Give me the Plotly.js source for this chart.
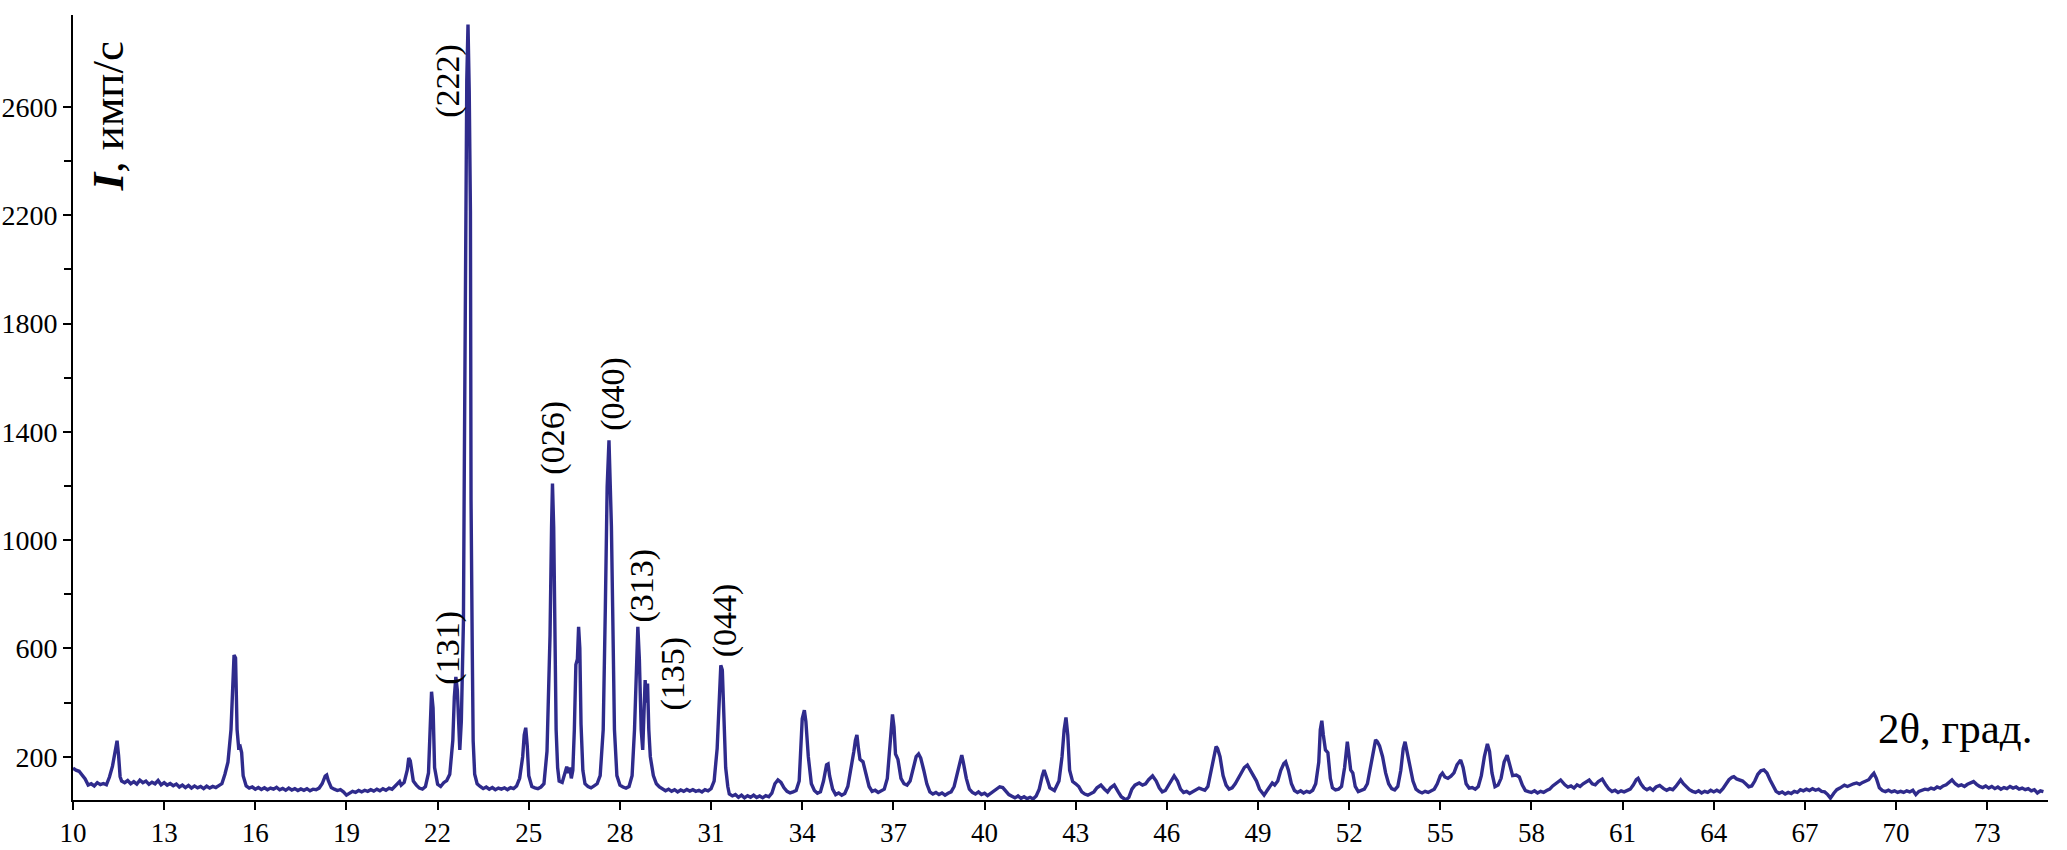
<!DOCTYPE html>
<html>
<head>
<meta charset="utf-8">
<script src="https://cdn.plot.ly/plotly-3.0.1.min.js"></script>
<style>html,body{margin:0;padding:0;background:#fff;}#chart{width:2067px;height:850px;}</style>
</head>
<body>
<div id="chart"></div>
<script>
const twoTheta = [
10.0,10.1,10.2,10.3,10.4,10.5,10.6,10.7,10.8,10.9,11.0,11.1,11.2,11.3,11.4,11.45,11.5,11.55,11.6,11.7,11.8,11.9,
12.0,12.1,12.2,12.3,12.4,12.5,12.6,12.7,12.8,12.9,13.0,13.1,13.2,13.3,13.4,13.5,13.6,13.7,13.8,13.9,
14.0,14.1,14.2,14.3,14.4,14.5,14.6,14.7,14.8,14.9,15.0,15.1,15.2,15.25,15.3,15.35,15.4,15.45,15.5,15.55,15.6,15.7,15.8,15.9,
16.0,16.1,16.2,16.3,16.4,16.5,16.6,16.7,16.8,16.9,17.0,17.1,17.2,17.3,17.4,17.5,17.6,17.7,17.8,17.9,
18.0,18.1,18.2,18.3,18.35,18.4,18.5,18.6,18.7,18.8,18.9,19.0,19.1,19.2,19.3,19.4,19.5,19.6,19.7,19.8,19.9,
20.0,20.1,20.2,20.3,20.4,20.5,20.6,20.7,20.75,20.8,20.9,21.0,21.05,21.1,21.15,21.2,21.3,21.4,21.5,21.6,21.7,21.75,21.8,21.85,21.9,
22.0,22.1,22.2,22.3,22.4,22.5,22.55,22.6,22.65,22.7,22.73,22.78,22.85,22.88,22.92,22.96,23.0,23.04,23.08,23.1,23.14,23.17,23.22,23.3,23.4,23.5,23.6,23.7,23.8,23.9,
24.0,24.1,24.2,24.3,24.4,24.5,24.6,24.7,24.8,24.85,24.9,24.95,25.0,25.1,25.2,25.3,25.4,25.5,25.6,25.65,25.7,25.75,25.78,25.82,25.86,25.9,25.95,
26.0,26.1,26.2,26.25,26.3,26.35,26.4,26.45,26.5,26.55,26.6,26.64,26.68,26.72,26.78,26.85,26.95,27.05,27.15,27.25,27.35,27.45,27.52,27.58,27.64,27.68,27.72,27.76,27.82,27.9,
28.0,28.1,28.2,28.3,28.4,28.48,28.54,28.59,28.64,28.7,28.75,28.8,28.83,28.87,28.91,28.95,29.0,29.1,29.2,29.3,29.4,29.5,29.6,29.7,29.8,29.9,
30.0,30.1,30.2,30.3,30.4,30.5,30.6,30.7,30.8,30.9,31.0,31.1,31.2,31.27,31.32,31.37,31.42,31.48,31.55,31.6,31.7,31.8,31.9,
32.0,32.1,32.2,32.3,32.4,32.5,32.6,32.7,32.8,32.9,33.0,33.1,33.2,33.3,33.4,33.5,33.6,33.7,33.8,33.9,33.95,
34.0,34.07,34.12,34.2,34.3,34.4,34.5,34.6,34.7,34.8,34.85,34.9,35.0,35.1,35.2,35.3,35.4,35.5,35.6,35.7,35.75,35.8,35.85,35.9,
36.0,36.1,36.2,36.3,36.4,36.5,36.6,36.7,36.8,36.9,36.97,37.02,37.07,37.15,37.25,37.35,37.45,37.55,37.65,37.75,37.83,37.9,
38.0,38.1,38.2,38.3,38.4,38.5,38.6,38.7,38.8,38.9,39.0,39.1,39.2,39.25,39.3,39.4,39.5,39.6,39.7,39.8,39.9,
40.0,40.1,40.2,40.3,40.4,40.5,40.6,40.7,40.8,40.9,41.0,41.1,41.2,41.3,41.4,41.5,41.6,41.7,41.8,41.9,41.96,
42.05,42.15,42.3,42.45,42.55,42.62,42.68,42.74,42.8,42.9,43.0,43.1,43.2,43.3,43.4,43.5,43.6,43.7,43.83,43.95,
44.05,44.15,44.27,44.4,44.5,44.65,44.75,44.85,44.95,45.09,45.2,45.3,45.4,45.53,45.65,45.75,45.85,45.95,
46.1,46.24,46.35,46.45,46.55,46.65,46.75,46.85,46.95,47.06,47.15,47.25,47.35,47.45,47.55,47.62,47.67,47.75,47.85,47.95,
48.05,48.15,48.25,48.35,48.45,48.55,48.65,48.75,48.85,48.95,49.05,49.15,49.2,49.3,49.4,49.47,49.55,49.65,49.75,49.85,49.91,
50.0,50.1,50.2,50.3,50.4,50.5,50.6,50.7,50.8,50.9,51.0,51.05,51.1,51.15,51.22,51.3,51.38,51.45,51.55,51.65,51.75,51.85,51.94,
52.0,52.05,52.12,52.2,52.3,52.4,52.5,52.6,52.7,52.8,52.87,52.93,53.0,53.1,53.2,53.3,53.4,53.5,53.6,53.7,53.78,53.84,53.9,
54.0,54.1,54.2,54.3,54.4,54.5,54.6,54.7,54.8,54.9,55.0,55.07,55.15,55.25,55.35,55.45,55.55,55.67,55.75,55.85,55.95,
56.05,56.15,56.25,56.35,56.45,56.55,56.62,56.7,56.8,56.9,57.0,57.1,57.2,57.28,57.38,57.5,57.6,57.7,57.8,57.9,
58.0,58.1,58.2,58.3,58.4,58.5,58.6,58.7,58.8,58.96,59.1,59.2,59.3,59.4,59.5,59.6,59.7,59.8,59.9,
60.0,60.1,60.2,60.33,60.45,60.55,60.65,60.75,60.85,60.95,61.05,61.15,61.25,61.35,61.45,61.51,61.6,61.7,61.8,61.9,
62.0,62.1,62.22,62.35,62.45,62.55,62.65,62.75,62.85,62.91,63.0,63.1,63.2,63.3,63.4,63.5,63.6,63.7,63.8,63.9,
64.0,64.1,64.2,64.3,64.4,64.5,64.6,64.66,64.75,64.85,64.95,65.05,65.15,65.25,65.35,65.45,65.55,65.65,65.75,65.85,65.95,
66.05,66.15,66.25,66.35,66.45,66.55,66.65,66.75,66.85,66.95,67.05,67.15,67.25,67.35,67.45,67.55,67.65,67.75,67.84,67.95,
68.05,68.15,68.3,68.4,68.5,68.6,68.7,68.8,68.9,69.0,69.1,69.2,69.27,69.35,69.45,69.55,69.65,69.75,69.85,69.95,
70.05,70.15,70.25,70.35,70.45,70.55,70.65,70.75,70.85,70.95,71.05,71.15,71.25,71.35,71.45,71.55,71.65,71.75,71.84,71.95,
72.05,72.15,72.25,72.35,72.45,72.55,72.65,72.75,72.85,72.95,73.05,73.15,73.25,73.35,73.45,73.55,73.65,73.75,73.85,73.95,
74.05,74.15,74.25,74.35,74.45,74.55,74.65,74.75,74.85
];
const intensity = [
158,150,146,132,118,95,100,92,104,97,101,96,125,165,240,259,205,126,110,104,112,100,
108,99,113,104,110,98,106,100,112,96,104,95,101,93,99,88,95,86,94,84,
92,85,90,82,91,84,90,86,93,100,135,180,300,460,575,565,300,235,238,215,130,92,84,88,
80,86,79,85,78,84,80,87,78,83,76,84,77,82,75,81,76,82,74,80,
78,84,100,128,132,112,86,80,75,78,70,58,66,72,68,75,70,76,72,78,73,
80,74,82,76,84,80,90,100,108,95,105,150,195,185,140,110,95,84,80,90,140,300,440,380,160,
98,90,104,112,135,260,420,495,445,250,225,330,700,1290,2290,2700,2905,2660,2215,1150,600,258,135,100,90,82,88,80,86,78,
84,80,85,78,86,82,92,120,200,280,307,240,130,90,85,82,88,100,220,420,650,1050,1209,1049,583,300,160,
110,105,150,163,140,160,120,150,300,540,560,680,600,320,150,100,90,85,92,100,130,300,750,1197,1369,1197,1049,754,300,130,
95,88,84,90,130,300,540,680,560,300,225,420,483,400,470,300,200,130,100,88,80,74,80,72,78,70,
77,72,79,73,78,72,76,70,78,74,82,110,230,420,538,520,335,160,90,62,55,60,50,
58,48,56,50,58,49,55,48,56,52,65,100,114,105,85,72,66,70,75,110,230,
340,372,330,200,100,75,65,70,110,170,173,130,80,60,66,58,64,90,150,220,260,280,230,190,
181,130,90,72,76,68,74,80,120,250,356,310,210,190,120,100,95,110,160,200,210,195,
150,100,70,62,68,60,66,58,65,70,90,140,190,206,180,120,80,68,62,70,60,
65,56,64,72,82,89,86,75,60,54,48,55,46,52,45,50,44,55,80,130,151,
120,85,75,110,200,300,345,280,150,108,100,90,70,62,58,64,70,85,95,80,
70,85,95,70,52,40,50,80,95,103,95,100,115,129,110,85,70,75,
100,129,110,80,68,72,64,70,78,84,80,76,90,140,200,237,230,200,130,95,
80,85,100,120,140,160,169,150,130,110,80,62,58,75,95,103,95,110,150,175,181,
150,100,75,68,74,66,72,68,76,100,180,300,333,280,225,215,120,85,77,80,90,160,255,
200,151,140,90,71,75,80,100,160,220,262,255,240,200,140,100,82,77,90,150,230,255,220,
160,110,80,71,66,72,68,74,80,100,130,139,125,120,128,140,170,188,160,100,84,
86,80,90,130,200,247,220,140,89,95,120,180,206,170,130,132,125,95,75,71,
68,74,66,72,68,75,80,92,100,114,96,88,92,84,96,90,100,108,114,
100,96,108,117,95,80,71,76,68,74,70,76,80,95,115,120,100,85,78,84,
76,88,94,82,76,82,78,90,108,114,100,88,78,72,68,74,66,72,68,76,
70,76,70,82,100,115,124,126,118,114,110,100,89,92,110,135,148,151,140,115,90,
72,65,70,62,68,64,72,68,78,74,80,75,82,76,80,72,70,60,47,65,
78,84,95,90,96,100,103,98,105,110,115,130,139,120,85,75,71,76,70,74,
68,72,68,74,70,76,60,72,76,80,78,84,80,88,84,92,96,105,114,100,
92,96,90,98,104,108,98,90,86,92,84,90,82,88,80,86,82,90,84,88,
80,84,78,82,74,78,66,74,71
];
// x-axis ticks and y-axis ticks
const xTickStart = 10, xTickStep = 3;
const yTickVals = [200, 600, 1000, 1400, 1800, 2200, 2600];
const yMinorVals = [400, 800, 1200, 1600, 2000, 2400];
// Miller-index labels and their anchor positions (2θ, intensity)
const peakLabels = ["(222)", "(131)", "(026)", "(040)", "(313)", "(135)", "(044)"];
const peakLabelX = [22.36, 22.36, 25.81, 27.79, 28.74, 29.76, 31.47];
const peakLabelY = [2695, 601, 1380, 1539, 834, 509, 705];

const serif = "Liberation Serif, Times New Roman, serif";
const lineColor = "#2f2b8c";

const trace = {
  x: twoTheta, y: intensity, type: "scatter", mode: "lines",
  line: {color: lineColor, width: 3.4}, hoverinfo: "skip"
};

const annotations = peakLabels.map((t, i) => ({
  x: peakLabelX[i], y: peakLabelY[i], xref: "x", yref: "y",
  xanchor: "center", yanchor: "middle",
  text: t, showarrow: false, textangle: -90,
  font: {family: serif, size: 34, color: "#000"}
}));
annotations.push({
  x: 0.0177, y: 0.871, xref: "paper", yref: "paper",
  xanchor: "center", yanchor: "middle",
  text: "<b><i>I</i></b>, имп/с", showarrow: false, textangle: -90,
  font: {family: serif, size: 45, color: "#000"}
});
annotations.push({
  x: 0.953, y: 0.0917, xref: "paper", yref: "paper",
  xanchor: "center", yanchor: "middle",
  text: "2θ, град.", showarrow: false,
  font: {family: serif, size: 43, color: "#000"}
});

const layout = {
  width: 2067, height: 850,
  margin: {l: 73, r: 19, t: 15, b: 50, pad: 0},
  paper_bgcolor: "#fff", plot_bgcolor: "#fff",
  showlegend: false,
  xaxis: {
    range: [10, 75], tickmode: "linear", tick0: xTickStart, dtick: xTickStep,
    ticks: "outside", ticklen: 8, tickwidth: 2, tickcolor: "#000",
    showline: true, linewidth: 2, linecolor: "#000",
    showgrid: false, zeroline: false,
    tickfont: {family: serif, size: 27, color: "#000"}
  },
  yaxis: {
    range: [40, 2940], tickmode: "array", tickvals: yTickVals,
    ticks: "outside", ticklen: 8, tickwidth: 2, tickcolor: "#000",
    minor: {tickmode: "array", tickvals: yMinorVals, ticks: "outside", ticklen: 7, tickwidth: 2, tickcolor: "#000", showgrid: false},
    showline: true, linewidth: 2, linecolor: "#000",
    showgrid: false, zeroline: false,
    tickfont: {family: serif, size: 28, color: "#000"}
  },
  annotations: annotations
};

Plotly.newPlot("chart", [trace], layout, {staticPlot: true, displayModeBar: false});
</script>
</body>
</html>
